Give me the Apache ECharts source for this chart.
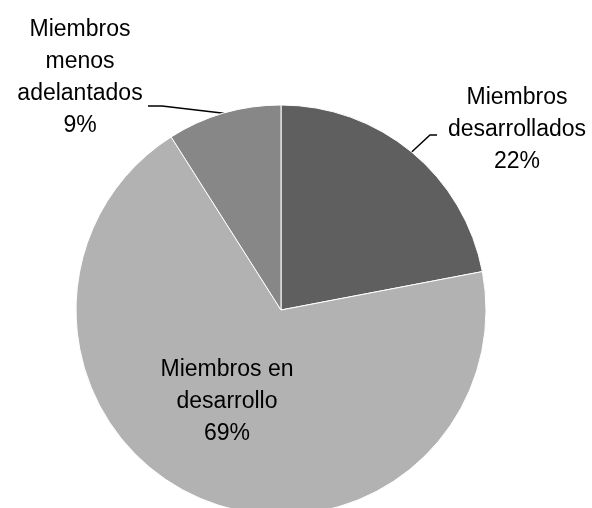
<!DOCTYPE html>
<html>
<head>
<meta charset="utf-8">
<script src="https://cdn.jsdelivr.net/npm/echarts@6/dist/echarts.min.js"></script>
<style>
  html, body { margin: 0; padding: 0; background: #ffffff; }
  #chart { width: 592px; height: 508px; }
</style>
</head>
<body>
<div id="chart"></div>
<script>
// datos
const categories = ['Miembros\ndesarrollados', 'Miembros en\ndesarrollo', 'Miembros\nmenos\nadelantados'];
const shares = [22, 69, 9];
const sliceColors = ['#5f5f5f', '#b2b2b2', '#878787'];

// posiciones de las etiquetas (centro del bloque de texto)
const labelCenters = [[517, 130], [227, 402], [80, 78]];
// codo y final de las líneas guía (null = sin línea)
const leaderEnds = [[[430, 135], [437, 135]], null, [[162, 106], [148, 106]]];

const myChart = echarts.init(document.getElementById('chart'), null, { renderer: 'canvas' });

const option = {
  animation: false,
  series: [
    {
      type: 'pie',
      center: [281, 310],
      radius: [0, 205],
      startAngle: 90,
      clockwise: true,
      avoidLabelOverlap: false,
      itemStyle: {
        borderColor: '#ffffff',
        borderWidth: 1
      },
      label: {
        show: true,
        position: 'outside',
        formatter: (p) => p.name + '\n' + p.value + '%',
        color: '#000000',
        fontFamily: 'Liberation Sans, Arial, sans-serif',
        fontSize: 23,
        lineHeight: 32,
        align: 'center'
      },
      labelLine: {
        show: true,
        length: 20,
        length2: 8,
        lineStyle: { color: '#000000', width: 1.5 }
      },
      labelLayout: (params) => {
        const i = params.dataIndex;
        const c = labelCenters[i];
        const out = { x: c[0], y: c[1], align: 'center', verticalAlign: 'middle' };
        if (leaderEnds[i] && params.labelLinePoints) {
          out.labelLinePoints = [params.labelLinePoints[0]].concat(leaderEnds[i]);
        }
        return out;
      },
      data: categories.map((name, i) => ({
        name: name,
        value: shares[i],
        itemStyle: { color: sliceColors[i] },
        label: i === 1 ? { position: 'inside' } : undefined,
        labelLine: i === 1 ? { show: false } : undefined
      }))
    }
  ]
};

myChart.setOption(option);
</script>
</body>
</html>
